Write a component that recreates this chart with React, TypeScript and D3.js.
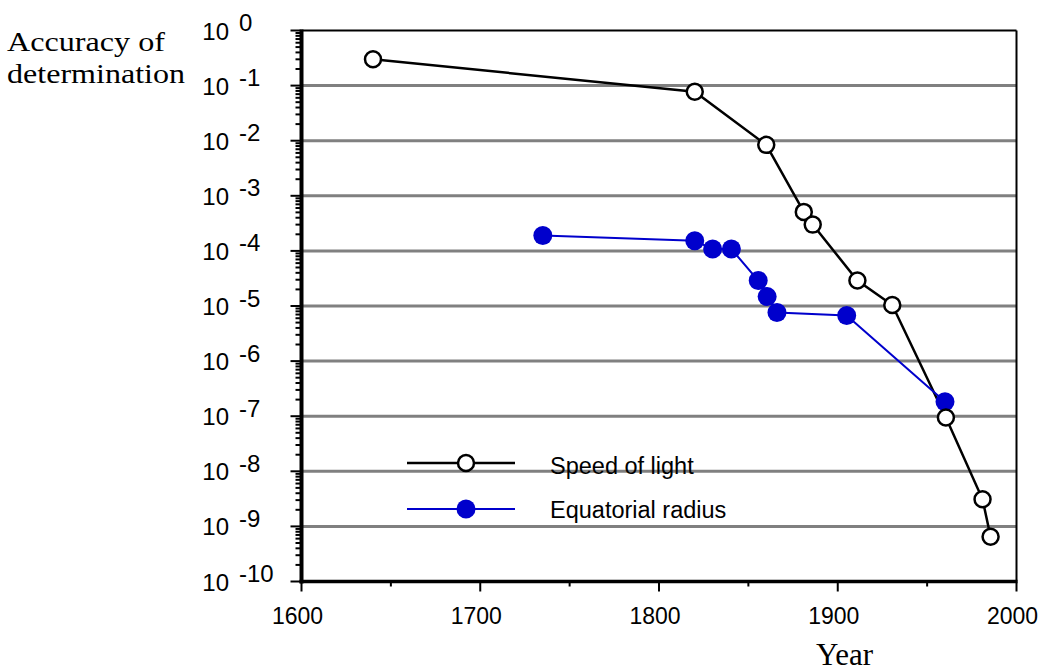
import React from 'react';
import * as d3 from 'd3';

// speed of light: year, relative accuracy
const lightYears = [1640, 1820, 1860, 1881, 1886, 1911, 1930.5, 1960.5, 1981, 1985.5];
const lightAcc = [0.3, 0.0775, 0.0084, 5.1e-4, 3.0e-4, 2.9e-5, 1.04e-5, 9.5e-8, 3.1e-9, 6.5e-10];

// equatorial radius
const radiusYears = [1735, 1820, 1830, 1840.5, 1855.5, 1860.5, 1866, 1905, 1960];
const radiusAcc = [1.9e-4, 1.53e-4, 1.08e-4, 1.08e-4, 2.9e-5, 1.48e-5, 7.6e-6, 6.7e-6, 1.83e-7];

const xTicks = [1600, 1700, 1800, 1900, 2000];
const xMinorTicks = [1650, 1750, 1850, 1950];
const exponents = [0, -1, -2, -3, -4, -5, -6, -7, -8, -9, -10];

const W = 1040;
const H = 672;
const BLUE = '#0000cc';
const SANS = '"Liberation Sans", Arial, sans-serif';
const SERIF = '"Liberation Serif", "Times New Roman", serif';

export default function App() {
  const x = d3.scaleLinear().domain([1600, 2000]).range([301.5, 1016.5]);
  const y = d3.scaleLog().domain([1, 1e-10]).range([30.5, 581.5]);

  const lightData = lightYears.map((yr, i) => [yr, lightAcc[i]] as [number, number]);
  const radiusData = radiusYears.map((yr, i) => [yr, radiusAcc[i]] as [number, number]);

  const line = d3.line<[number, number]>()
    .x(d => x(d[0]))
    .y(d => y(d[1]));

  // minor ticks 2..9 in every decade
  const minor: number[] = [];
  for (let e = 0; e > -10; e--) {
    for (let m = 2; m <= 9; m++) minor.push(m * Math.pow(10, e - 1));
  }

  const left = x(1600);
  const right = x(2000);
  const top = y(1);
  const bottom = y(1e-10);

  return (
    <div style={{ position: 'absolute', left: 0, top: 0 }}>
      <svg width={W} height={H} style={{ display: 'block', background: '#fff' }}>
        {/* grid lines */}
        {exponents.slice(1, -1).map(e => (
          <line key={'g' + e} x1={left} x2={right} y1={y(Math.pow(10, e))} y2={y(Math.pow(10, e))}
            stroke="#808080" strokeWidth={3} />
        ))}

        {/* frame */}
        <line x1={left} x2={right} y1={top} y2={top} stroke="#000" strokeWidth={2} />
        <line x1={right} x2={right} y1={top} y2={bottom} stroke="#000" strokeWidth={2} />

        {/* y axis ticks */}
        {minor.map((v, i) => (
          <line key={'m' + i} x1={left - 6} x2={left} y1={y(v)} y2={y(v)} stroke="#000" strokeWidth={2} />
        ))}
        {exponents.map(e => (
          <line key={'t' + e} x1={left - 11} x2={left} y1={y(Math.pow(10, e))} y2={y(Math.pow(10, e))}
            stroke="#000" strokeWidth={2} />
        ))}

        {/* x axis ticks */}
        {xTicks.map(t => (
          <line key={'xt' + t} x1={x(t)} x2={x(t)} y1={bottom} y2={bottom + 10} stroke="#000" strokeWidth={2} />
        ))}
        {xMinorTicks.map(t => (
          <line key={'xm' + t} x1={x(t)} x2={x(t)} y1={bottom} y2={bottom + 5} stroke="#000" strokeWidth={2} />
        ))}

        {/* axes */}
        <line x1={left} x2={left} y1={top - 1} y2={bottom + 2} stroke="#000" strokeWidth={4} />
        <line x1={left - 2} x2={right + 1} y1={bottom} y2={bottom} stroke="#000" strokeWidth={3.5} />

        {/* y tick labels */}
        {exponents.map(e => {
          const gy = y(Math.pow(10, e));
          return (
            <g key={'yl' + e} fontFamily={SANS} fontSize={24} fill="#000">
              <text x={229} y={gy + 9} textAnchor="end">10</text>
              <text x={239} y={gy + 0.5}>{e === 0 ? '0' : '-' + Math.abs(e)}</text>
            </g>
          );
        })}

        {/* x tick labels */}
        {xTicks.map(t => (
          <text key={'xl' + t} x={x(t) - 4} y={624} textAnchor="middle" fontFamily={SANS} fontSize={23}>{t}</text>
        ))}

        {/* axis titles */}
        <text x={7} y={51} fontFamily={SERIF} fontSize={28} textLength={158} lengthAdjust="spacingAndGlyphs">Accuracy of</text>
        <text x={7} y={83} fontFamily={SERIF} fontSize={28} textLength={178} lengthAdjust="spacingAndGlyphs">determination</text>
        <text x={816} y={665} fontFamily={SERIF} fontSize={31}>Year</text>

        {/* series */}
        <path d={line(lightData) || ''} fill="none" stroke="#000" strokeWidth={2.5} />
        <path d={line(radiusData) || ''} fill="none" stroke={BLUE} strokeWidth={2} />
        {radiusData.map((d, i) => (
          <circle key={'r' + i} cx={x(d[0])} cy={y(d[1])} r={9.5} fill={BLUE} />
        ))}
        {lightData.map((d, i) => (
          <circle key={'l' + i} cx={x(d[0])} cy={y(d[1])} r={8} fill="#fff" stroke="#000" strokeWidth={2.5} />
        ))}

        {/* legend */}
        <line x1={407} x2={515} y1={463} y2={463} stroke="#000" strokeWidth={2.5} />
        <circle cx={466} cy={463} r={8} fill="#fff" stroke="#000" strokeWidth={2.5} />
        <text x={550} y={474} fontFamily={SANS} fontSize={23.5}>Speed of light</text>
        <line x1={407} x2={515} y1={509} y2={509} stroke={BLUE} strokeWidth={2} />
        <circle cx={466} cy={509} r={9.5} fill={BLUE} />
        <text x={550} y={518} fontFamily={SANS} fontSize={23.5}>Equatorial radius</text>
      </svg>
    </div>
  );
}
